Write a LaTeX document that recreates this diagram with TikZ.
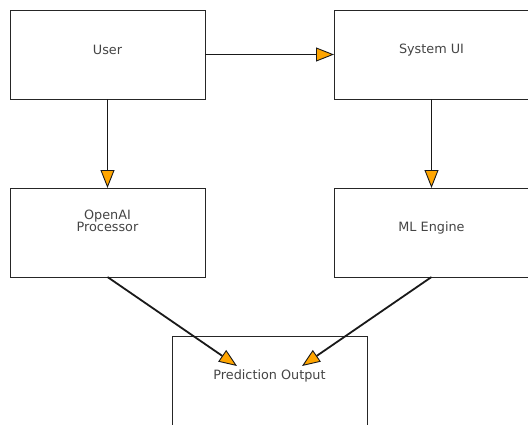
\documentclass[tikz,border=0pt]{standalone}
\usepackage{fontspec}
\setmainfont{DejaVu Sans}
\usetikzlibrary{arrows.meta}
\definecolor{txt}{HTML}{444444}
\definecolor{tipfill}{HTML}{FFA500}
\begin{document}
\begin{tikzpicture}[x=1pt,y=-1pt,
  box/.style={draw=black!85,line width=1pt,minimum width=195pt,minimum height=89pt,inner sep=0pt,outer sep=0pt},
  lbl/.style={text=txt,font=\fontsize{12.8}{14}\selectfont,align=center},
  conn/.style={draw=black!90,line width=1.8pt,-{Triangle[length=18pt,width=14pt,fill=tipfill,line width=0.9pt]}}]
\useasboundingbox (0,0) rectangle (528,424);
\node[box] (user) at (107.5,54.5) {};
\node[box] (sysui) at (431.5,54.5) {};
\node[box] (openai) at (107.5,232.5) {};
\node[box] (ml) at (431.5,232.5) {};
\node[box] (pred) at (269.5,381) {};
\node[lbl] (tuser) at (107.5,50) {User};
\node[lbl] (tsys) at (431.5,50) {System UI};
\node[lbl] (topen) at (107.5,220.5) {OpenAI\\[-2pt]Processor};
\node[lbl] (tml) at (431.5,228) {ML Engine};
\node[lbl] (tpred) at (269.5,376) {Prediction Output};
\coordinate (p1) at (237,366);
\coordinate (p2) at (302,366);
\draw[conn] (user.east) -- (sysui.west);
\draw[conn] (user.south) -- (openai.north);
\draw[conn] (sysui.south) -- (ml.north);
\draw[conn] (openai.south) -- (p1);
\draw[conn] (ml.south) -- (p2);
\end{tikzpicture}
\end{document}
